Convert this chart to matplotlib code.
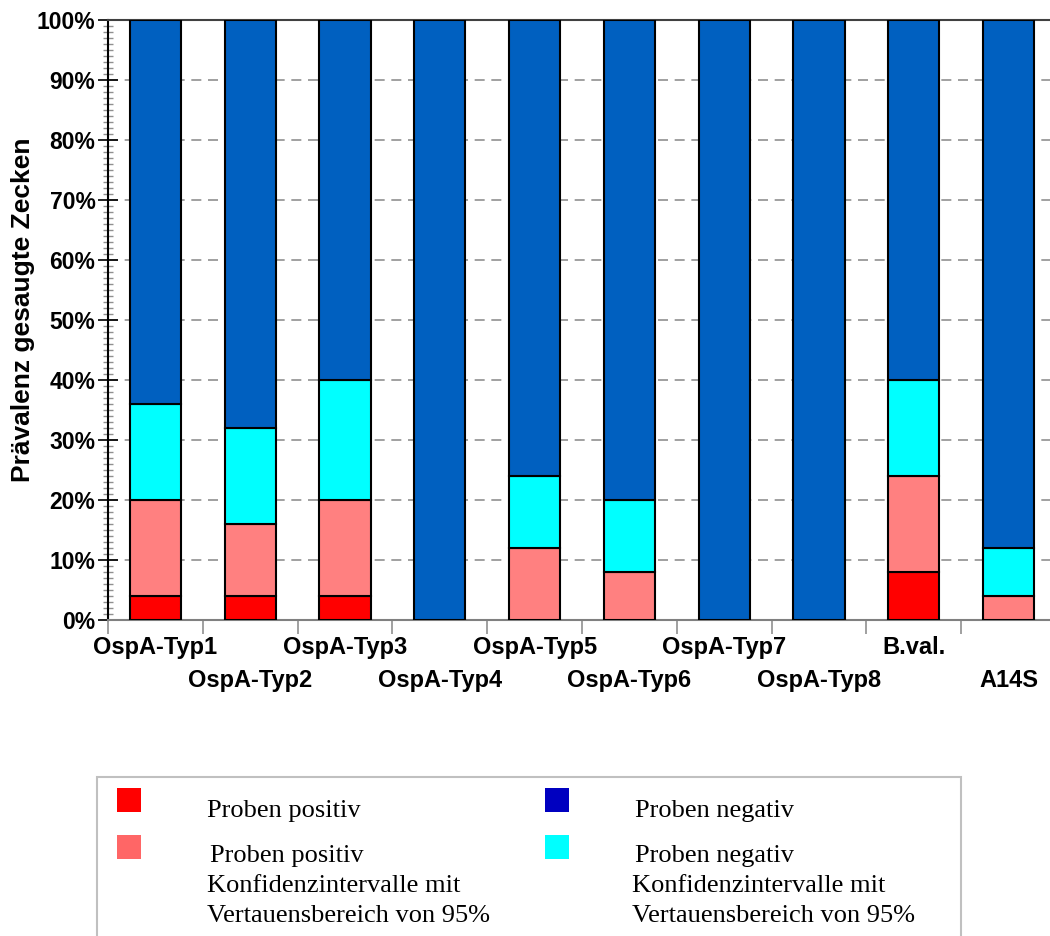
import matplotlib
matplotlib.use("Agg")
import matplotlib.pyplot as plt
from matplotlib.patches import Rectangle
from matplotlib.ticker import MultipleLocator, FixedLocator, PercentFormatter, NullFormatter
import numpy as np

# Prevalence of tick samples per OspA type (percent, stacked segments)
categories = ["OspA-Typ1", "OspA-Typ2", "OspA-Typ3", "OspA-Typ4", "OspA-Typ5",
              "OspA-Typ6", "OspA-Typ7", "OspA-Typ8", "B.val.", "A14S"]
positive = [4, 4, 4, 0, 0, 0, 0, 0, 8, 0]
positive_ci = [16, 12, 16, 0, 12, 8, 0, 0, 16, 4]
negative_ci = [16, 16, 20, 0, 12, 12, 0, 0, 16, 8]
negative = [64, 68, 60, 100, 76, 80, 100, 100, 60, 88]

legend_labels = [
    "Proben positiv",
    "Proben negativ",
    "Proben positiv\nKonfidenzintervalle mit\nVertauensbereich von 95%",
    "Proben negativ\nKonfidenzintervalle mit\nVertauensbereich von 95%",
]

bar_colors = ["#FF0000", "#FF8080", "#00FFFF", "#0060C0"]
legend_colors = ["#FF0000", "#0000C0", "#FF6666", "#00FFFF"]

W, H = 1050, 936
fig = plt.figure(figsize=(W / 100, H / 100), dpi=100)
ax = fig.add_axes([108 / W, 1 - 620 / H, 948 / W, 600 / H])

x = np.arange(len(categories))
bottom = np.zeros(len(categories))
for vals, col in zip([positive, positive_ci, negative_ci, negative], bar_colors):
    v = np.array(vals, dtype=float)
    ax.bar(x, v, bottom=bottom, width=0.54, color=col, edgecolor="black",
           linewidth=1.5, zorder=3)
    bottom += v

ax.set_xlim(-0.5, len(categories) - 0.5)
ax.set_ylim(0, 100)

# y axis: percent ticks with fine minor ticks
ax.yaxis.set_major_locator(MultipleLocator(10))
ax.yaxis.set_minor_locator(MultipleLocator(1))
ax.yaxis.set_major_formatter(PercentFormatter(decimals=0))
ax.tick_params(axis="y", which="major", direction="inout", length=14, width=1.2,
               color="black", pad=2, labelsize=16.5)
ax.tick_params(axis="y", which="minor", direction="inout", length=7, width=1,
               color="#909090")
for lab in ax.get_yticklabels():
    lab.set_fontweight("bold")
    lab.set_fontfamily("Liberation Sans")

# x axis: ticks at slot boundaries, labels at bar centres on two staggered rows
ax.xaxis.set_major_locator(FixedLocator(np.arange(len(categories) + 1) - 0.5))
ax.xaxis.set_major_formatter(NullFormatter())
ax.tick_params(axis="x", which="major", direction="out", length=10, width=1.2,
               color="#909090")
xtrans = ax.get_xaxis_transform()
for i, c in enumerate(categories):
    row_y = -0.026 if i % 2 == 0 else -0.081
    ax.text(x[i], row_y, c, transform=xtrans, ha="center", va="top",
            fontsize=17, fontweight="bold", fontfamily="Liberation Sans")

ax.yaxis.grid(True, which="major", linestyle=(0, (6, 4)), color="#909090",
              linewidth=1.2, zorder=0)
ax.set_axisbelow(True)

ax.spines["left"].set_color("black")
ax.spines["left"].set_linewidth(1.5)
ax.spines["bottom"].set_color("#808080")
ax.spines["bottom"].set_linewidth(1.5)
ax.spines["top"].set_color("#404040")
ax.spines["top"].set_linewidth(1.5)
ax.spines["right"].set_visible(False)

ax.set_ylabel("Prävalenz gesaugte Zecken", fontsize=19, fontweight="bold",
              fontfamily="Liberation Sans")
ax.yaxis.set_label_coords((23 - 108) / 948, 0.517)
ax.yaxis.label.set_va("center")

# legend panel
fig.add_artist(Rectangle((97 / W, -0.05), (961 - 97) / W, (1 - 777 / H) + 0.05,
                         transform=fig.transFigure, facecolor="white",
                         edgecolor="#C0C0C0", linewidth=1.5))

sq = 24
entries = [
    (117, 788, 207, 817),
    (545, 788, 635, 817),
    (117, 835, 210, 862),
    (545, 835, 635, 862),
]
for (mx, my, tx, ty), col, lab in zip(entries, legend_colors, legend_labels):
    fig.add_artist(Rectangle((mx / W, 1 - (my + sq) / H), sq / W, sq / H,
                             transform=fig.transFigure, facecolor=col,
                             edgecolor="none"))
    for k, line in enumerate(lab.split("\n")):
        xx = tx if k == 0 else tx - 3
        fig.text(xx / W, 1 - (ty + 30 * k) / H, line, fontsize=19,
                 fontfamily="Liberation Serif", va="baseline", ha="left")

fig.savefig("out.png", dpi=100)
